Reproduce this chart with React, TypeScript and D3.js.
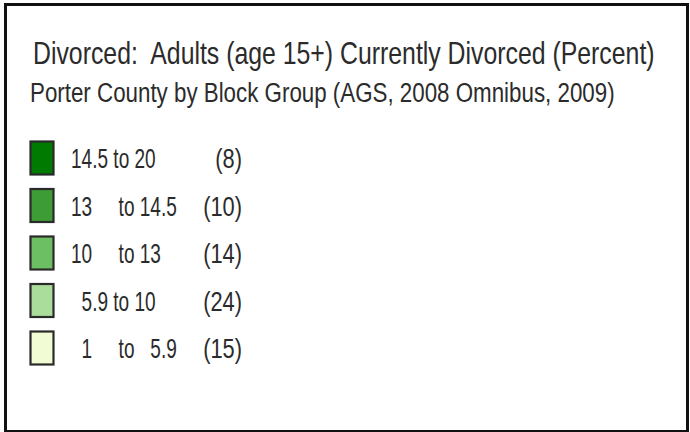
import React, { useEffect, useRef } from 'react';
import * as d3 from 'd3';

// legend data
const classLabels = ['14.5 to 20', '13     to 14.5', '10     to 13', '  5.9 to 10', '  1     to   5.9'];
const classCounts = [8, 10, 14, 24, 15];
const classColors = ['#007a00', '#3d9c35', '#6dbf63', '#aadd9b', '#f1fbd4'];

const title = 'Divorced:  Adults (age 15+) Currently Divorced (Percent)';
const subtitle = 'Porter County by Block Group (AGS, 2008 Omnibus, 2009)';

const App = () => {
  const ref = useRef<SVGSVGElement | null>(null);

  useEffect(() => {
    const width = 690;
    const height = 432;
    const svg = d3.select(ref.current);
    svg.selectAll('*').remove();
    svg.attr('width', width).attr('height', height);

    svg.append('rect').attr('width', width).attr('height', height).attr('fill', '#fff');

    // frame
    svg
      .append('rect')
      .attr('x', 5.5)
      .attr('y', 4.5)
      .attr('width', 682)
      .attr('height', 427)
      .attr('fill', 'none')
      .attr('stroke', '#111')
      .attr('stroke-width', 3);

    const font = '"Liberation Sans", Arial, sans-serif';

    // squeeze a heading into a given width with a horizontal scale
    const heading = (str: string, x: number, yy: number, size: number, w: number) => {
      const g = svg.append('g');
      const t = g
        .append('text')
        .attr('x', 0)
        .attr('y', 0)
        .attr('font-family', font)
        .attr('font-size', size)
        .attr('fill', '#2b2b2b')
        .style('white-space', 'pre')
        .text(str);
      const len = (t.node() as SVGTextElement).getComputedTextLength();
      g.attr('transform', `translate(${x},${yy}) scale(${w / len},1)`);
    };

    heading(title, 33, 64, 32, 622);
    heading(subtitle, 30, 102, 27, 585);

    // rows
    const y = d3.scalePoint<number>().domain(d3.range(classLabels.length)).range([158, 348]);
    const sx = 0.68;
    const cx = 0.78;
    const sw = 23;
    const sh = 33;

    const rows = svg
      .append('g')
      .selectAll('g')
      .data(classLabels)
      .enter()
      .append('g')
      .attr('transform', (d, i) => `translate(0,${y(i)})`);

    rows
      .append('rect')
      .attr('x', 30.5)
      .attr('y', -sh / 2)
      .attr('width', sw)
      .attr('height', sh)
      .attr('fill', (d, i) => classColors[i])
      .attr('stroke', '#2a2a2a')
      .attr('stroke-width', 2.2);

    rows
      .append('g')
      .attr('transform', `translate(71,10) scale(${sx},1)`)
      .append('text')
      .attr('font-family', font)
      .attr('font-size', 28)
      .attr('fill', '#2b2b2b')
      .style('white-space', 'pre')
      .text(d => d);

    rows
      .append('g')
      .attr('transform', `translate(242,10) scale(${cx},1)`)
      .append('text')
      .attr('text-anchor', 'end')
      .attr('font-family', font)
      .attr('font-size', 28)
      .attr('fill', '#2b2b2b')
      .text((d, i) => `(${classCounts[i]})`);
  }, []);

  return <svg ref={ref} style={{ position: 'absolute', left: 0, top: 0 }} />;
};

export default App;
